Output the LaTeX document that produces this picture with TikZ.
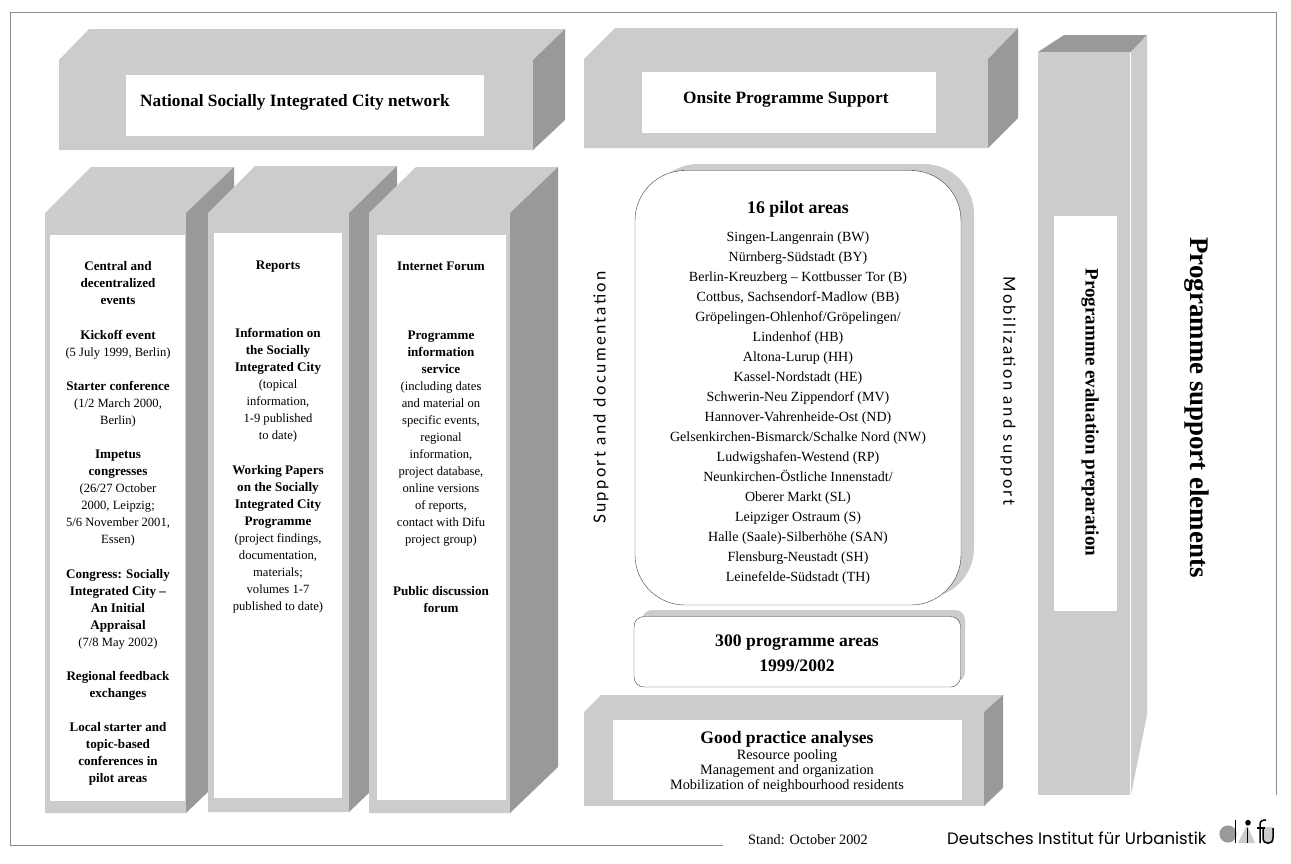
\documentclass[tikz,border=0pt]{standalone}
\usepackage{fontspec}
\setmainfont{Liberation Serif}
\newfontfamily\spacedfont[LetterSpace=14]{Lato}
\newfontfamily\logofont{Poppins}
\usepackage{tikz}
\definecolor{facegray}{HTML}{CCCCCC}
\definecolor{sidegray}{HTML}{999999}
\definecolor{framegray}{HTML}{8C8C8C}
\tikzset{
  facefill/.style={fill=facegray, draw=none},
  sidefill/.style={fill=sidegray, draw=none},
  panelfill/.style={fill=white, draw=none},
  columntext/.style={anchor=north, align=center, inner sep=0pt, font=\fontsize{12.6}{17.07}\selectfont},
  listtext/.style={anchor=north, align=center, inner sep=0pt, font=\fontsize{14}{19.95}\selectfont},
  titletext/.style={anchor=west, inner sep=0pt, font=\fontsize{17.3}{20}\selectfont\bfseries},
  spacedtext/.style={inner sep=0pt, font=\fontsize{16.6}{18}\spacedfont},
  logoline/.style={line width=1.5pt},
}
\newcommand{\gapline}{\\[17.07pt]}
\newcommand{\colhead}[1]{{\fontsize{13.1}{17.07}\selectfont\bfseries #1}}
\begin{document}
\begin{tikzpicture}[x=1pt, y=-1pt]
\useasboundingbox (0,0) rectangle (1291,863);
% cadre
\draw[framegray, thick] (723,845) -- (10,845) -- (10,12.5) -- (1276,12.5) -- (1276,795);
% national network
\fill[facefill] (59,60) -- (89,29) -- (565,29) -- (533,60) -- (533,150) -- (59,150) -- cycle;
\fill[sidefill] (533,60) -- (565,29) -- (565,120) -- (533,150) -- cycle;
\fill[panelfill] (126,75) rectangle (484,136);
\node[titletext] (national) at (140,102.5) {National Socially Integrated City network};
% onsite support
\fill[facefill] (584,59) -- (615,28) -- (1018,28) -- (988,59) -- (988,148) -- (584,148) -- cycle;
\fill[sidefill] (988,59) -- (1018,28) -- (1018,118) -- (988,148) -- cycle;
\fill[panelfill] (642,72) rectangle (936,133);
\node[titletext] (onsite) at (683,99.5) {Onsite Programme Support};
% colonne evenements
\fill[facefill] (45,213) -- (91,167) -- (234,167) -- (186,213) -- (186,813) -- (45,813) -- cycle;
\fill[sidefill] (186,213) -- (234,167) -- (234,767) -- (186,813) -- cycle;
\fill[panelfill] (50,235) rectangle (185,801);
\node[columntext] (events) at (118,261.5) {\colhead{Central and}\\\colhead{decentralized}\\\colhead{events}\gapline
  \colhead{Kickoff event}\\(5 July 1999, Berlin)\gapline
  \colhead{Starter conference}\\(1/2 March 2000,\\Berlin)\gapline
  \colhead{Impetus}\\\colhead{congresses}\\(26/27 October\\2000, Leipzig;\\5/6 November 2001,\\Essen)\gapline
  \colhead{Congress: Socially}\\\colhead{Integrated City --}\\\colhead{An Initial}\\\colhead{Appraisal}\\(7/8 May 2002)\gapline
  \colhead{Regional feedback}\\\colhead{exchanges}\gapline
  \colhead{Local starter and}\\\colhead{topic-based}\\\colhead{conferences in}\\\colhead{pilot areas}};
% colonne rapports
\fill[facefill] (208,213) -- (255,166) -- (397,166) -- (349,213) -- (349,812) -- (208,812) -- cycle;
\fill[sidefill] (349,213) -- (397,166) -- (397,766) -- (349,812) -- cycle;
\fill[panelfill] (214,233) rectangle (342,798);
\node[columntext] (reports) at (278,260.5) {\colhead{Reports}\gapline\mbox{}\gapline
  \colhead{Information on}\\\colhead{the Socially}\\\colhead{Integrated City}\\(topical\\information,\\1-9 published\\to date)\gapline
  \colhead{Working Papers}\\\colhead{on the Socially}\\\colhead{Integrated City}\\\colhead{Programme}\\(project findings,\\documentation,\\materials;\\volumes 1-7\\published to date)};
% colonne internet
\fill[facefill] (369,213) -- (416,167) -- (558,167) -- (510,213) -- (510,813) -- (369,813) -- cycle;
\fill[sidefill] (510,213) -- (558,167) -- (558,767) -- (510,813) -- cycle;
\fill[panelfill] (377,235) rectangle (506,800);
\node[columntext] (forum) at (441,262) {\colhead{Internet Forum}\gapline\mbox{}\gapline
  \colhead{Programme}\\\colhead{information}\\\colhead{service}\\(including dates\\and material on\\specific events,\\regional\\information,\\project database,\\online versions\\of reports,\\contact with Difu\\project group)\\[34.14pt]
  \colhead{Public discussion}\\\colhead{forum}};
% pilotes
\fill[facefill, rounded corners=50pt] (648,164) rectangle (974,598);
\draw[fill=white, draw=black!75, rounded corners=50pt] (635,170.5) rectangle (961,605);
\node[anchor=north, inner sep=0pt, font=\fontsize{17.8}{20}\selectfont\bfseries] (pilotlabel) at (798,200.5) {16 pilot areas};
\node[listtext] (pilotlist) at (798,232) {Singen-Langenrain (BW)\\Nürnberg-Südstadt (BY)\\Berlin-Kreuzberg -- Kottbusser Tor (B)\\
  Cottbus, Sachsendorf-Madlow (BB)\\Gröpelingen-Ohlenhof/Gröpelingen/\\Lindenhof (HB)\\Altona-Lurup (HH)\\Kassel-Nordstadt (HE)\\
  Schwerin-Neu Zippendorf (MV)\\Hannover-Vahrenheide-Ost (ND)\\Gelsenkirchen-Bismarck/Schalke Nord (NW)\\Ludwigshafen-Westend (RP)\\
  Neunkirchen-Östliche Innenstadt/\\Oberer Markt (SL)\\Leipziger Ostraum (S)\\Halle (Saale)-Silberhöhe (SAN)\\Flensburg-Neustadt (SH)\\Leinefelde-Südstadt (TH)};
% programme areas
\fill[facefill, rounded corners=10pt] (642,610) rectangle (965,682);
\draw[fill=white, draw=black!75, rounded corners=10pt] (634,616.5) rectangle (960.5,687);
\node[anchor=north, align=center, inner sep=0pt, font=\fontsize{17.6}{25}\selectfont\bfseries] (areas) at (797,635) {300 programme areas\\1999/2002};
% good practice
\fill[facefill] (584,712) -- (601,695) -- (1003,695) -- (984,712) -- (984,806) -- (584,806) -- cycle;
\fill[sidefill] (984,712) -- (1003,695) -- (1003,788) -- (984,806) -- cycle;
\fill[panelfill] (613,720) rectangle (962,800);
\node[anchor=north, align=center, inner sep=0pt, font=\fontsize{14.3}{15}\selectfont] (practice) at (787,731) {{\fontsize{17.6}{18}\selectfont\bfseries Good practice analyses}\\[1.5pt]Resource pooling\\Management and organization\\Mobilization of neighbourhood residents};
% evaluation
\fill[sidefill] (1038,52) -- (1064,35) -- (1147,35) -- (1131,52) -- cycle;
\fill[facefill] (1131,52) -- (1147,35) -- (1147,715) -- (1131,795) -- cycle;
\fill[facefill] (1038,52) rectangle (1130,795);
\fill[panelfill] (1054,216) rectangle (1117,611);
\node[rotate=-90, inner sep=0pt, font=\fontsize{19}{21}\selectfont\bfseries] (evaluation) at (1090,412.5) {Programme evaluation preparation};
\node[rotate=-90, inner sep=0pt, font=\fontsize{26.9}{28}\selectfont\bfseries] (elements) at (1197,407.5) {Programme support elements};
% cotes
\node[spacedtext, rotate=90] (support) at (601,397.5) {Support and documentation};
\node[spacedtext, rotate=-90] (mobilization) at (1008,391) {Mobilization and support};
% pied de page
\node[inner sep=0pt, font=\fontsize{14.3}{16}\selectfont] (stand) at (808,840) {Stand: October 2002};
\node[anchor=west, inner sep=0pt, font=\fontsize{16.5}{18}\logofont] (institute) at (947,838) {Deutsches Institut für Urbanistik};
% logo
\fill[sidegray] (1228,834) circle (8.6);
\fill[facegray] (1238,843) -- (1247,825) -- (1255,843) -- cycle;
\fill[facegray] (1263,827) rectangle (1273,843);
\draw[logoline] (1235.7,820) -- (1235.7,843);
\fill (1248,822.7) circle (2.8);
\draw[logoline] (1247.7,828) -- (1247.7,843);
\draw[logoline] (1260,843) -- (1260,825) .. controls (1260,821) and (1262,820) .. (1266,820);
\draw[logoline] (1257,828) -- (1265,828);
\draw[logoline] (1263,828) -- (1263,838) .. controls (1263,845) and (1273,845) .. (1273,838) -- (1273,828);
\end{tikzpicture}
\end{document}
